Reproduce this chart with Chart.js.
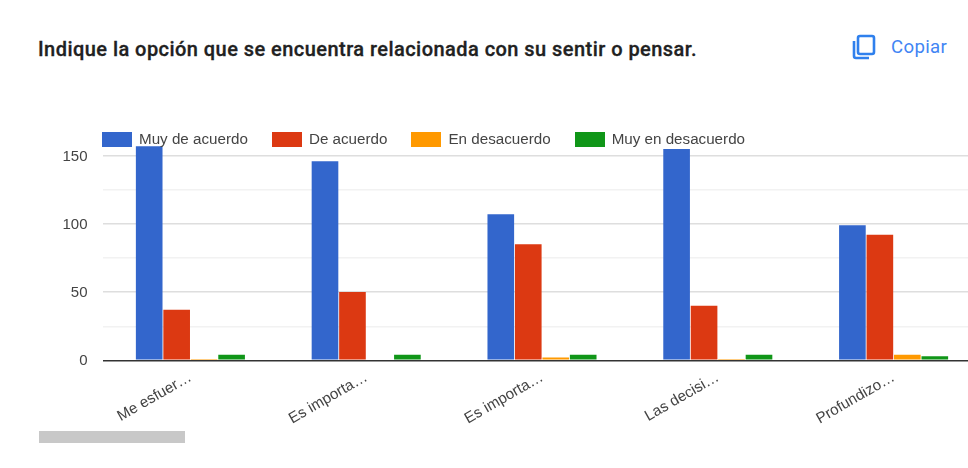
<!DOCTYPE html>
<html>
<head>
<meta charset="utf-8">
<script src="https://cdn.jsdelivr.net/npm/chart.js@4"></script>
<style>
  html, body { margin: 0; padding: 0; width: 968px; height: 468px; overflow: hidden; background: #fff; }
  #title { position: absolute; left: 38px; top: 37px; font: 500 20px Roboto, sans-serif; -webkit-text-stroke: 0.3px #212121; letter-spacing: 0.45px; color: #212121; white-space: nowrap; }
  #copy { position: absolute; left: 852px; top: 34px; display: flex; align-items: center; color: #4285f4; font: 400 18.6px Roboto, sans-serif; letter-spacing: 0.35px; }
  #copy svg { margin-right: 15px; }
  #wrap { position: absolute; left: 0; top: 0; width: 968px; height: 468px; overflow: hidden; }
  #legend { position: absolute; left: 102px; top: 131px; display: flex; font: 15.2px "Liberation Sans", sans-serif; color: #444; line-height: 16px; }
  #legend div { display: flex; align-items: center; margin-right: 24px; }
  #legend i { display: block; width: 30px; height: 15px; margin-right: 7px; }
  #scrollbar { position: absolute; left: 39px; top: 431px; width: 146px; height: 12px; background: #c8c8c8; }
</style>
</head>
<body>
<div id="title">Indique la opción que se encuentra relacionada con su sentir o pensar.</div>
<div id="copy">
  <svg width="24" height="26" viewBox="0 0 24 26" fill="none" stroke="#2f80ed" stroke-width="2.6">
    <rect x="6" y="2" width="16" height="18" rx="2"/>
    <path d="M2 7v15a2 2 0 0 0 2 2h13"/>
  </svg>
  <span>Copiar</span>
</div>
<div id="wrap"><canvas id="chart" width="990" height="468"></canvas></div>
<div id="legend"></div>
<div id="scrollbar"></div>
<script>
var categories = ["Me esfuer…", "Es importa…", "Es importa…", "Las decisi…", "Profundizo…"];
var muyDeAcuerdo = [157, 146, 107, 155, 99];
var deAcuerdo = [37, 50, 85, 40, 92];
var enDesacuerdo = [1, 0, 2, 1, 4];
var muyEnDesacuerdo = [4, 4, 4, 4, 3];
var yTickLabels = [0, 50, 100, 150];

var series = [
  { label: "Muy de acuerdo", data: muyDeAcuerdo, color: "#3366cc" },
  { label: "De acuerdo", data: deAcuerdo, color: "#dc3912" },
  { label: "En desacuerdo", data: enDesacuerdo, color: "#ff9900" },
  { label: "Muy en desacuerdo", data: muyEnDesacuerdo, color: "#109618" }
];

// same legend as the google one, it sits on top of the plot
series.forEach(function(s) {
  var item = document.createElement("div");
  var box = document.createElement("i");
  box.style.background = s.color;
  item.appendChild(box);
  item.appendChild(document.createTextNode(s.label));
  document.getElementById("legend").appendChild(item);
});

new Chart(document.getElementById("chart"), {
  type: "bar",
  data: {
    labels: categories,
    datasets: series.map(function(s) {
      return {
        label: s.label,
        data: s.data,
        backgroundColor: s.color,
        categoryPercentage: 0.625,
        barPercentage: 0.97
      };
    })
  },
  options: {
    responsive: false,
    animation: false,
    layout: { padding: { top: 121.6, right: 8.5, left: 0, bottom: 0 } },
    plugins: { legend: { display: false }, tooltip: { enabled: false } },
    scales: {
      x: {
        afterFit: function(scale) { scale.height = 107.7; },
        grid: { display: false },
        border: { display: false },
        ticks: {
          minRotation: 30,
          maxRotation: 30,
          padding: 0,
          autoSkip: false,
          color: "#444",
          font: { family: "Liberation Sans", size: 15.2 }
        }
      },
      y: {
        min: 0,
        max: 175,
        afterFit: function(scale) { scale.width = 102.5; },
        border: { display: false },
        grid: {
          drawTicks: false,
          lineWidth: function(ctx) { return ctx.tick.value === 0 ? 1.5 : 1.4; },
          color: function(ctx) {
            var v = ctx.tick.value;
            if (v === 0) return "#333";
            if (v === 175) return "rgba(0,0,0,0)";
            return yTickLabels.indexOf(v) >= 0 ? "#dedede" : "#f2f2f2";
          }
        },
        ticks: {
          stepSize: 25,
          padding: 15,
          labelOffset: 1,
          color: "#444",
          font: { family: "Liberation Sans", size: 15 },
          callback: function(v) { return yTickLabels.indexOf(v) >= 0 ? v : ""; }
        }
      }
    }
  }
});
</script>
</body>
</html>
